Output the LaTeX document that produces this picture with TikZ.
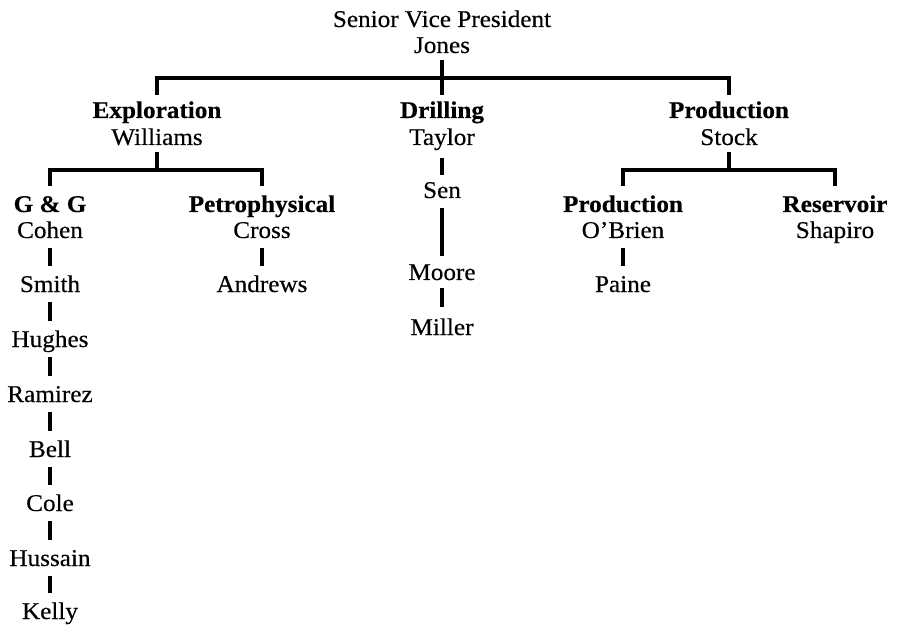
\documentclass[tikz,border=0pt]{standalone}
\usepackage{fontspec}
\setmainfont{Liberation Serif}[FakeStretch=1.05,FakeBold=0.35]
\usetikzlibrary{calc}
\begin{document}
\begin{tikzpicture}[x=0.75pt,y=-0.75pt,
  t/.style={anchor=base,inner sep=0pt,font=\fontsize{18}{21}\selectfont},
  b/.style={t,font=\fontsize{18}{21}\selectfont\bfseries},
  ln/.style={line width=2.3pt}]
\useasboundingbox (0,0) rectangle (899,627);
% top
\node[t] (svp) at (442,27) {Senior Vice President};
\node[t] (jones) at (442,53) {Jones};
% level 1
\node[b] (expl) at (157,118) {Exploration};
\node[t] (williams) at (157,145) {Williams};
\node[b] (drill) at (442,118) {Drilling};
\node[t] (taylor) at (442,145) {Taylor};
\node[b] (prod) at (729,118) {Production};
\node[t] (stock) at (729,145) {Stock};
% exploration subunits
\node[b] (gg) at (50,212) {G \& G};
\node[t] (cohen) at (50,238) {Cohen};
\node[t] (smith) at (50,292) {Smith};
\node[t] (hughes) at (50,347) {Hughes};
\node[t] (ramirez) at (50,402) {Ramirez};
\node[t] (bell) at (50,457) {Bell};
\node[t] (cole) at (50,511) {Cole};
\node[t] (hussain) at (50,566) {Hussain};
\node[t] (kelly) at (50,619) {Kelly};
\node[b] (petro) at (262,212) {Petrophysical};
\node[t] (cross) at (262,238) {Cross};
\node[t] (andrews) at (262,292) {Andrews};
% drilling chain
\node[t] (sen) at (442,198) {Sen};
\node[t] (moore) at (442,280) {Moore};
\node[t] (miller) at (442,335) {Miller};
% production subunits
\node[b] (prod2) at (623,212) {Production};
\node[t] (obrien) at (623,238) {O’Brien};
\node[t] (paine) at (623,292) {Paine};
\node[b] (res) at (835,212) {Reservoir};
\node[t] (shapiro) at (835,238) {Shapiro};
% top bracket
\draw[ln] ($(jones.base)+(0,7)$) -- ($(drill.base)+(0,-23)$);
\draw[ln] ($(expl.base)+(0,-23)$) -- ++(0,-17) -| ($(prod.base)+(0,-23)$);
% exploration bracket
\draw[ln] ($(williams.base)+(0,7)$) -- ++(0,18);
\draw[ln] ($(gg.base)+(0,-26)$) -- ++(0,-16) -| ($(petro.base)+(0,-26)$);
% production bracket
\draw[ln] ($(stock.base)+(0,7)$) -- ++(0,18);
\draw[ln] ($(prod2.base)+(0,-26)$) -- ++(0,-16) -| ($(res.base)+(0,-26)$);
% chains
\foreach \a/\b in {cohen/smith,smith/hughes,hughes/ramirez,ramirez/bell,bell/cole,cole/hussain,hussain/kelly,cross/andrews,obrien/paine}
  \draw[ln] ($(\a.base)+(0,10)$) -- ($(\b.base)+(0,-26)$);
\draw[ln] ($(taylor.base)+(0,13)$) -- ($(sen.base)+(0,-23)$);
\draw[ln] ($(sen.base)+(0,10)$) -- ($(moore.base)+(0,-24)$);
\draw[ln] ($(moore.base)+(0,8)$) -- ($(miller.base)+(0,-28)$);
\end{tikzpicture}
\end{document}
